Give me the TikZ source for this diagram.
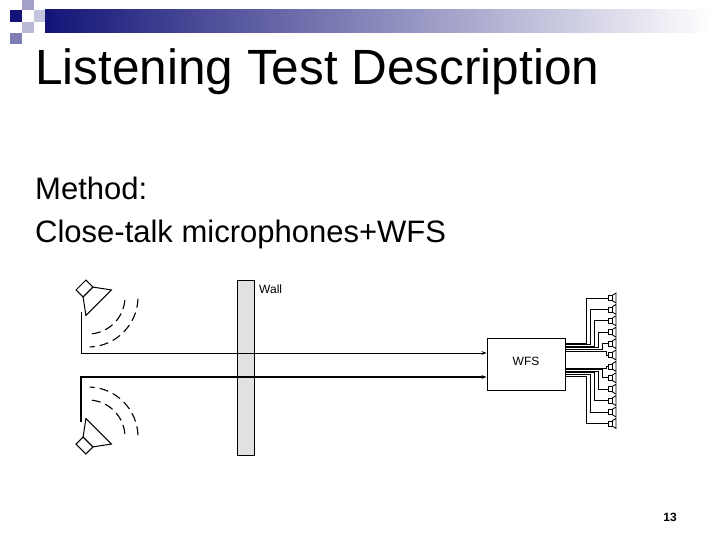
\documentclass[tikz,border=0pt]{standalone}
\usepackage{fontspec}
\setmainfont{Liberation Sans}
\usetikzlibrary{arrows.meta}
\definecolor{navy}{RGB}{20,20,120}
\definecolor{wallgray}{RGB}{225,225,225}
\tikzset{
  wire/.style={line width=0.9pt},
  arc/.style={line width=1.1pt, dash pattern=on 9pt off 5pt},
  spk/.pic={\draw[line width=1pt, fill=white] (-17,-7) rectangle (-7,7);
            \draw[line width=1pt, fill=white] (-7,-7) -- (8,-18) -- (8,18) -- (-7,7) -- cycle;},
  small/.pic={\draw[line width=0.8pt, fill=white] (-4,-2.5) rectangle (0,2.5);
              \draw[line width=0.8pt] (0,-2.5) -- (4,-5) -- (4,5) -- (0,2.5);}
}
\begin{document}
\begin{tikzpicture}[x=1pt,y=-1pt]
\useasboundingbox (0,0) rectangle (720,540);
% header decoration
\shade[left color=navy, right color=white] (45,10) rectangle (712,33);
\fill[navy!40] (22,0) rectangle (34,10);
\fill[navy!30] (22,22) rectangle (34,33);
\fill[navy!55] (10,33) rectangle (22,44);
\fill[navy!25] (34,10) rectangle (45,22);
\fill[navy] (10,10) rectangle (22,22);
\node[anchor=base west, font=\fontsize{49.5}{55}\selectfont, inner sep=0] (title) at (35,85) {Listening Test Description};
\node[anchor=base west, font=\fontsize{31}{36}\selectfont, inner sep=0] (m1) at (35,200) {Method:};
\node[anchor=base west, font=\fontsize{31}{36}\selectfont, inner sep=0] (m2) at (35,243) {Close-talk microphones+WFS};
% wall
\node[draw, fill=wallgray, line width=0.8pt, minimum width=17pt, minimum height=175pt, inner sep=0] (wall) at (245.5,367.5) {};
\node[anchor=west, font=\fontsize{12}{14}\selectfont, inner sep=0] (walllbl) at (259,289) {Wall};
% WFS
\node[draw, fill=white, line width=0.9pt, minimum width=78pt, minimum height=52pt, inner sep=0] (wfs) at (526,364) {};
\node[font=\fontsize{12}{14}\selectfont] (wfslbl) at (526,361) {WFS};
% speakers
\pic[rotate=-45] (s1) at (93,297) {spk};
\pic[rotate=45] (s2) at (93,437) {spk};
\draw[arc] (88,297) ++(5:37) arc (5:85:37);
\draw[arc] (88,297) ++(2:50) arc (2:88:50);
\draw[arc] (88,437) ++(-5:37) arc (-5:-85:37);
\draw[arc] (88,437) ++(-2:50) arc (-2:-88:50);
% lines
\coordinate (a1) at (81,312);
\coordinate (a2) at (81,422);
\draw[wire, -{Stealth[length=5pt]}] (a1) |- (wfs.west |- 0,353);
\draw[line width=1.6pt, -{Stealth[length=5pt]}] (a2) |- (wfs.west |- 0,377);
% array
\foreach \i in {0,...,11}{
  \pgfmathsetmacro{\yy}{298+\i*11.4}
  \pic at (612,\yy) {small};
}
\foreach \i in {0,...,5}{
  \pgfmathsetmacro{\yy}{298+\i*11.4}
  \pgfmathsetmacro{\ey}{343+\i*1.6}
  \pgfmathsetmacro{\tx}{586+\i*4}
  \draw[line width=0.7pt] (wfs.east |- 0,\ey) -- (\tx,\ey) -- (\tx,\yy) -- (608,\yy);
}
\foreach \i in {6,...,11}{
  \pgfmathsetmacro{\yy}{298+\i*11.4}
  \pgfmathsetmacro{\ey}{368+(\i-6)*1.6}
  \pgfmathsetmacro{\tx}{586+(11-\i)*4}
  \draw[line width=0.7pt] (wfs.east |- 0,\ey) -- (\tx,\ey) -- (\tx,\yy) -- (608,\yy);
}
\node[font=\fontsize{12}{14}\selectfont\bfseries] (pg) at (670,517) {13};
\end{tikzpicture}
\end{document}
